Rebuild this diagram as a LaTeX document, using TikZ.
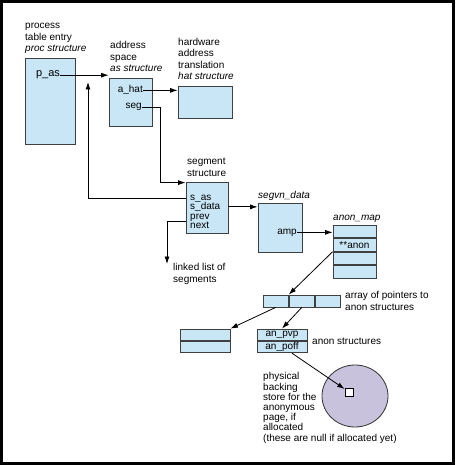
\documentclass[tikz,border=0pt]{standalone}
\usepackage{fontspec}
\setmainfont{Liberation Sans}
\usetikzlibrary{positioning,shapes,arrows.meta}
\definecolor{cellblue}{RGB}{200,230,246}
\definecolor{diskgray}{RGB}{200,194,220}

\begin{document}
\begin{tikzpicture}[x=1pt,y=-1pt,
	every node/.style={font=\fontsize{10}{11.5}\selectfont},
	cell/.style={draw=black!75, fill=cellblue, line width=0.8pt, inner sep=0pt},
	lbl/.style={align=left, anchor=base west, inner sep=0pt},
	fld/.style={inner sep=0pt, anchor=base},
	ptr/.style={-{Latex[length=7.5pt,width=5pt]}, line width=0.8pt}]

	\fill[black] (0,0) rectangle (455,465);
	\fill[white] (3,3) rectangle (452,462);
	\useasboundingbox (0,0) rectangle (455,465);

	\node[lbl] (procl) at (25,52) {process\\table entry\\\textit{proc structure}};
	\node[lbl] (asl) at (110,72) {address\\space\\\textit{as structure}};
	\node[lbl] (hatl) at (178,80) {hardware\\address\\translation\\\textit{hat structure}};
	\node[lbl] (segl) at (187,176) {segment\\structure};
	\node[lbl] (segvnl) at (258,198) {\textit{segvn\_data}};
	\node[lbl] (amapl) at (333,220) {\textit{anon\_map}};
	\node[lbl] (lll) at (173,282) {linked list of\\segments};
	\node[lbl] (arrl) at (345,310) {array of pointers to\\anon structures};
	\node[lbl] (anl) at (312,344) {anon structures};
	\node[lbl, font=\fontsize{10}{10.2}\selectfont] (physl) at (263,441) {physical\\backing\\store for the\\anonymous\\page, if\\allocated\\(these are null if allocated yet)};

	\node[cell, minimum width=50pt, minimum height=86pt] (proc) at (50,101) {};
	\node[fld, font=\fontsize{11}{13}\selectfont] (pas) at (48,77) {p\_as};

	\node[cell, minimum width=43pt, minimum height=48pt] (as) at (130.5,102) {};
	\node[fld, anchor=base east] (ahat) at (143,93) {a\_hat};
	\node[fld, anchor=base east] (segf) at (142,109) {seg};

	\node[cell, minimum width=54pt, minimum height=32pt] (hat) at (205,102) {};

	\node[cell, minimum width=42pt, minimum height=51pt] (seg) at (207,207.5) {};
	\node[fld, anchor=base west] (sas) at (190,200) {s\_as};
	\node[fld, anchor=base west] (sdata) at (190,209.5) {s\_data};
	\node[fld, anchor=base west] (prev) at (190,219) {prev};
	\node[fld, anchor=base west] (next) at (190,228.5) {next};

	\node[cell, minimum width=44pt, minimum height=49pt] (segvn) at (280,227.5) {};
	\node[fld, anchor=base east] (amp) at (297,234) {amp};

	\node[cell, minimum width=43pt, minimum height=12.75pt] (am1) at (354.5,231.4) {};
	\node[cell, minimum width=43pt, minimum height=12.75pt, below=0pt of am1] (am2) {**anon};
	\node[cell, minimum width=43pt, minimum height=12.75pt, below=0pt of am2] (am3) {};
	\node[cell, minimum width=43pt, minimum height=12.75pt, below=0pt of am3] (am4) {};

	\node[cell, minimum width=25.3pt, minimum height=12pt] (ar1) at (275.7,301) {};
	\node[cell, minimum width=25.3pt, minimum height=12pt, right=0pt of ar1] (ar2) {};
	\node[cell, minimum width=25.3pt, minimum height=12pt, right=0pt of ar2] (ar3) {};

	\node[cell, minimum width=50pt, minimum height=11.5pt] (lb1) at (205,334.75) {};
	\node[cell, minimum width=50pt, minimum height=11.5pt, below=0pt of lb1] (lb2) {};

	\node[cell, minimum width=50pt, minimum height=11.5pt] (an1) at (282,334.75) {an\_pvp};
	\node[cell, minimum width=50pt, minimum height=11.5pt, below=0pt of an1] (an2) {an\_poff};

	\node[ellipse, draw=black!80, fill=diskgray, line width=0.8pt, minimum width=66pt, minimum height=62pt] (disk) at (355,396) {};
	\node[draw, fill=white, line width=0.8pt, minimum size=8pt, inner sep=0pt] (page) at (349,392) {};

	\coordinate (ret) at (88,82);
	\coordinate (llend) at (167,264);

	\draw[ptr] (pas.east) -- (pas.east -| as.west);
	\draw[ptr] (ahat.east) -- (ahat.east -| hat.west);
	\draw[ptr] (segf.east) -- ++(18,0) |- ([yshift=-1pt]seg.north west);
	\draw[ptr] (sas.west -| seg.west) -| (ret);
	\draw[ptr] (sdata.east -| seg.east) -- (sdata.east -| segvn.west);
	\draw[ptr] (next.north -| seg.west) -| (llend);
	\draw[ptr] (amp.east) -- (amp.east -| am1.west);
	\draw[ptr] (am2.south west) -- (ar2.north west);
	\draw[ptr] (ar1.south) -- (lb1.north east);
	\draw[ptr] (ar2.south) -- (an1.north);
	\draw[ptr] ([xshift=10pt]an2.south) -- (page);

\end{tikzpicture}
\end{document}
